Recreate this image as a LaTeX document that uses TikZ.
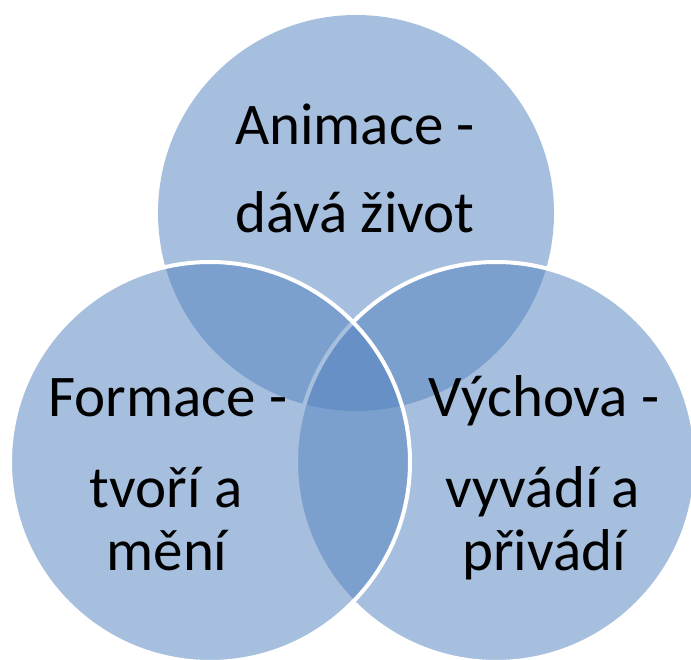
\documentclass[tikz,border=0pt]{standalone}
\usepackage{fontspec}
\setmainfont{Carlito}
\definecolor{vennblue}{RGB}{83,130,190}

\begin{document}
\begin{tikzpicture}[x=1pt, y=-1pt]
\tikzstyle{every node}=[inner sep=0pt];
\tikzstyle{set}=[shape=circle, minimum size=400pt, fill=vennblue, fill opacity=0.51, draw=white, line width=4pt];
\tikzstyle{word}=[anchor=base, text=black, font=\fontsize{59}{70}\selectfont];
\useasboundingbox (0,0) rectangle (691,660);
% the three sets
\node [set, draw=none, minimum size=396pt] (anim) at (356,213) {};
\node [set] (vych) at (496,462) {};
\node [set] (form) at (210,462) {};
% labels
\node [word] (anim1) at (355,145) {Animace -};
\node [word] (anim2) at (355,233) {dává život};
\node [word] (form1) at (168,417) {Formace -};
\node [word] (form2) at (166,507) {tvoří a};
\node [word] (form3) at (167,570) {mění};
\node [word] (vych1) at (544,417) {Výchova -};
\node [word] (vych2) at (543,507) {vyvádí a};
\node [word] (vych3) at (544,570) {přivádí};
\end{tikzpicture}
\end{document}
